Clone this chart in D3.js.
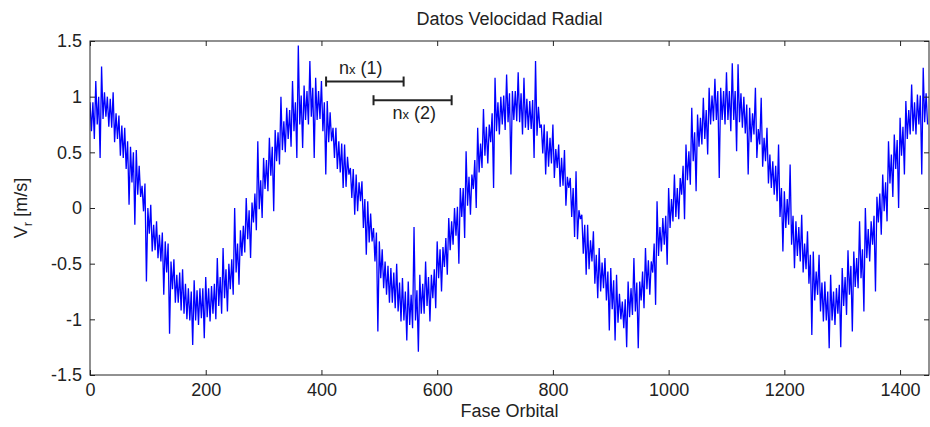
<!DOCTYPE html>
<html>
<head>
<meta charset="utf-8">
<script src="https://cdn.jsdelivr.net/npm/d3@7"></script>
<style>
body { margin: 0; background: #fff; }
text { font-family: "Liberation Sans", Arial, sans-serif; fill: #222; }
</style>
</head>
<body>
<svg width="930" height="427"></svg>
<script>
// fase orbital step between readings
const step = 10;
// spike tips of the noisy trace (hi at i*step, lo at i*step + 7.5)
const vrHi = [0.95,1.14,1.27,1.0,1.04,0.83,0.72,0.55,0.52,0.2,
    0.0,-0.15,-0.24,-0.3,-0.48,-0.6,-0.55,-0.72,-0.65,-0.72,
    -0.62,-0.7,-0.45,-0.36,-0.5,0.0,-0.2,0.09,0.05,0.6,
    0.45,0.63,0.7,1.0,0.9,1.14,1.46,1.1,1.32,1.17,
    1.14,0.96,0.72,0.6,0.57,0.36,0.3,0.24,0.06,-0.18,
    -0.3,-0.48,-0.54,-0.5,-0.63,-0.66,-0.17,-0.6,-0.48,-0.6,
    -0.3,-0.35,-0.09,0.0,0.18,0.51,0.3,0.72,0.89,0.75,
    1.17,1.0,1.2,1.05,1.22,1.17,0.96,1.32,0.75,0.69,
    0.75,0.57,0.52,0.27,0.33,-0.06,-0.15,-0.21,-0.36,-0.45,
    -0.54,-0.6,-0.84,-0.66,-0.45,-0.66,-0.36,-0.48,0.06,-0.09,
    0.18,0.3,0.27,0.57,0.9,0.84,0.99,1.08,1.16,1.08,
    1.22,1.3,1.29,1.0,0.9,1.08,0.99,0.72,0.42,0.57,
    0.15,0.39,-0.12,-0.06,-0.21,-0.39,-0.42,-0.66,-0.6,-0.72,
    -0.54,-0.38,-0.39,-0.12,0.0,-0.12,0.1,0.3,0.6,0.66,
    0.81,0.96,1.11,1.02,1.26];
const vrLo = [0.62,0.45,0.82,0.72,0.62,0.45,0.03,-0.15,0.1,-0.66,
    -0.39,-0.45,-0.78,-1.13,-0.85,-0.92,-1.0,-1.23,-1.05,-1.17,
    -1.02,-1.0,-0.95,-0.93,-0.78,-0.69,-0.4,-0.45,-0.2,-0.09,
    0.15,-0.03,0.39,0.5,0.55,0.45,0.54,0.75,0.45,0.8,
    0.3,0.6,0.35,0.18,0.3,-0.06,0.06,-0.42,-0.3,-1.11,
    -0.72,-0.85,-0.9,-1.02,-1.19,-1.08,-1.29,-0.95,-1.02,-0.9,
    -0.75,-0.6,-0.33,-0.5,-0.27,-0.06,0.0,0.36,0.4,0.18,
    0.66,0.7,0.3,0.78,0.66,0.7,0.45,0.72,0.3,0.4,
    0.36,0.2,0.18,-0.26,-0.1,-0.6,-0.48,-0.81,-0.72,-1.1,
    -1.19,-1.0,-1.25,-0.96,-1.26,-0.9,-0.78,-0.87,-0.39,-0.51,
    -0.12,-0.1,-0.1,0.21,0.15,0.57,0.48,0.78,0.27,0.75,
    0.69,0.51,0.72,0.3,0.66,0.57,0.42,0.18,0.06,-0.39,
    -0.15,-0.54,-0.48,-0.55,-1.14,-0.78,-1.02,-1.26,-1.05,-1.25,
    -0.96,-1.11,-0.72,-0.93,-0.48,-0.75,-0.24,-0.12,0.1,0.0,
    0.3,0.66,0.66,0.3,0.75];
// edges of the dense core of the trace (top at i*step + 5, bottom at i*step + 2.5)
const coreHi = [0.95,1.0,1.04,0.98,0.85,0.74,0.6,0.5,0.38,0.22,
    0.03,-0.12,-0.22,-0.32,-0.46,-0.58,-0.68,-0.75,-0.74,-0.72,
    -0.72,-0.68,-0.62,-0.55,-0.46,-0.32,-0.16,-0.02,0.13,0.25,
    0.43,0.55,0.68,0.78,0.88,0.95,1.01,1.05,1.08,1.05,
    0.95,0.86,0.72,0.58,0.46,0.35,0.23,0.08,-0.05,-0.22,
    -0.37,-0.52,-0.58,-0.67,-0.75,-0.78,-0.74,-0.68,-0.62,-0.55,
    -0.37,-0.27,-0.12,0.01,0.18,0.28,0.43,0.58,0.73,0.85,
    0.95,1.01,1.03,1.05,1.03,0.98,0.97,0.91,0.75,0.63,
    0.53,0.45,0.28,0.18,-0.02,-0.15,-0.29,-0.42,-0.49,-0.57,
    -0.65,-0.77,-0.82,-0.72,-0.67,-0.57,-0.47,-0.32,-0.17,-0.07,
    0.08,0.18,0.38,0.51,0.68,0.81,0.88,1.01,1.05,1.05,
    1.05,1.05,1.03,0.93,0.85,0.71,0.63,0.48,0.38,0.18,
    0.08,-0.07,-0.17,-0.32,-0.42,-0.57,-0.67,-0.75,-0.75,-0.69,
    -0.62,-0.52,-0.45,-0.37,-0.19,-0.07,0.13,0.23,0.48,0.61,
    0.73,0.88,0.95,1.01,1.03];
const coreLo = [0.69,0.75,0.8,0.73,0.59,0.47,0.35,0.23,0.12,-0.03,
    -0.23,-0.38,-0.48,-0.58,-0.73,-0.85,-0.95,-1.01,-1.01,-0.99,
    -0.98,-0.95,-0.88,-0.81,-0.73,-0.58,-0.43,-0.28,-0.13,-0.01,
    0.17,0.29,0.42,0.52,0.62,0.69,0.75,0.79,0.82,0.79,
    0.69,0.59,0.45,0.32,0.19,0.09,-0.03,-0.18,-0.31,-0.48,
    -0.63,-0.78,-0.85,-0.93,-1.01,-1.05,-1.01,-0.95,-0.88,-0.81,
    -0.63,-0.53,-0.38,-0.25,-0.08,0.02,0.17,0.32,0.47,0.59,
    0.69,0.75,0.77,0.79,0.77,0.72,0.71,0.65,0.49,0.37,
    0.27,0.19,0.02,-0.08,-0.28,-0.41,-0.55,-0.68,-0.75,-0.83,
    -0.91,-1.03,-1.08,-0.98,-0.93,-0.83,-0.73,-0.58,-0.43,-0.33,
    -0.18,-0.08,0.12,0.25,0.42,0.55,0.62,0.75,0.79,0.79,
    0.79,0.79,0.77,0.67,0.59,0.45,0.37,0.22,0.12,-0.08,
    -0.18,-0.33,-0.43,-0.58,-0.68,-0.83,-0.93,-1.01,-1.01,-0.95,
    -0.88,-0.78,-0.71,-0.63,-0.45,-0.33,-0.13,-0.03,0.22,0.35,
    0.47,0.62,0.69,0.75,0.77];

const xTicks = [0, 200, 400, 600, 800, 1000, 1200, 1400];
const yTicks = [-1.5, -1, -0.5, 0, 0.5, 1, 1.5];

// the two n_x brackets
const nxNames = ['(1)', '(2)'];
const nxFrom = [408, 490];
const nxTo = [542, 625];
const nxLevel = [1.136, 0.968];

const svg = d3.select('svg');
const mLeft = 90, mRight = 929, mTop = 41, mBottom = 375;

const x = d3.scaleLinear().domain([0, 1450]).range([mLeft, mRight]);
const y = d3.scaleLinear().domain([-1.5, 1.5]).range([mBottom, mTop]);

// series points, alternating up and down like the raw samples
const pts = [];
vrHi.forEach((v, i) => {
    pts.push([i * step, v]);
    pts.push([i * step + 2.5, coreLo[i]]);
    pts.push([i * step + 5, coreHi[i]]);
    pts.push([i * step + 7.5, vrLo[i]]);
});

svg.append('clipPath').attr('id', 'clip')
    .append('rect').attr('x', mLeft).attr('y', mTop)
    .attr('width', mRight - mLeft).attr('height', mBottom - mTop);

svg.append('path')
    .datum(pts)
    .attr('clip-path', 'url(#clip)')
    .attr('fill', 'none')
    .attr('stroke', '#0000ff')
    .attr('stroke-width', 1.3)
    .attr('d', d3.line().x(d => x(d[0])).y(d => y(d[1])));

const fmt = d => String(d);

// axes, MATLAB style ticks pointing in
svg.append('g').attr('transform', `translate(0,${mBottom})`)
    .call(d3.axisBottom(x).tickValues(xTicks).tickFormat(fmt)
        .tickSizeInner(-5).tickSizeOuter(0).tickPadding(8));
svg.append('g').attr('transform', `translate(0,${mTop})`)
    .call(d3.axisTop(x).tickValues(xTicks).tickFormat('')
        .tickSizeInner(-5).tickSizeOuter(0));
svg.append('g').attr('transform', `translate(${mLeft},0)`)
    .call(d3.axisLeft(y).tickValues(yTicks).tickFormat(fmt)
        .tickSizeInner(-5).tickSizeOuter(0).tickPadding(8));
svg.append('g').attr('transform', `translate(${mRight},0)`)
    .call(d3.axisRight(y).tickValues(yTicks).tickFormat('')
        .tickSizeInner(-5).tickSizeOuter(0));

svg.selectAll('.domain').remove();
svg.selectAll('.tick line').attr('stroke', '#222');
svg.selectAll('.tick text').attr('font-size', 18).attr('fill', '#222');
svg.selectAll('g').attr('font-family', null);

svg.append('rect')
    .attr('x', mLeft).attr('y', mTop)
    .attr('width', mRight - mLeft).attr('height', mBottom - mTop)
    .attr('fill', 'none').attr('stroke', '#222').attr('stroke-width', 1);

// title and labels
svg.append('text').attr('x', (mLeft + mRight) / 2).attr('y', 25)
    .attr('text-anchor', 'middle').attr('font-size', 18)
    .text('Datos Velocidad Radial');

svg.append('text').attr('x', (mLeft + mRight) / 2).attr('y', 417)
    .attr('text-anchor', 'middle').attr('font-size', 18)
    .text('Fase Orbital');

const yl = svg.append('text')
    .attr('transform', `translate(27,${(mTop + mBottom) / 2}) rotate(-90)`)
    .attr('text-anchor', 'middle').attr('font-size', 18);
yl.append('tspan').text('V');
yl.append('tspan').attr('dy', 5).attr('font-size', 13).text('r');
yl.append('tspan').attr('dy', -5).text(' [m/s]');

// n_x brackets
nxNames.forEach((name, i) => {
    const g = svg.append('g').attr('stroke', '#222').attr('stroke-width', 2);
    const yy = y(nxLevel[i]);
    g.append('line').attr('x1', x(nxFrom[i])).attr('x2', x(nxTo[i]))
        .attr('y1', yy).attr('y2', yy);
    g.append('line').attr('x1', x(nxFrom[i])).attr('x2', x(nxFrom[i]))
        .attr('y1', yy - 5).attr('y2', yy + 5);
    g.append('line').attr('x1', x(nxTo[i])).attr('x2', x(nxTo[i]))
        .attr('y1', yy - 5).attr('y2', yy + 5);

    const t = svg.append('text')
        .attr('x', x(nxFrom[i]) + (i == 0 ? 13 : 19))
        .attr('y', i == 0 ? yy - 8 : yy + 19)
        .attr('font-size', 18);
    t.append('tspan').text('n');
    t.append('tspan').attr('font-size', 13).text('x');
    t.append('tspan').text(' ' + name);
});
</script>
</body>
</html>
